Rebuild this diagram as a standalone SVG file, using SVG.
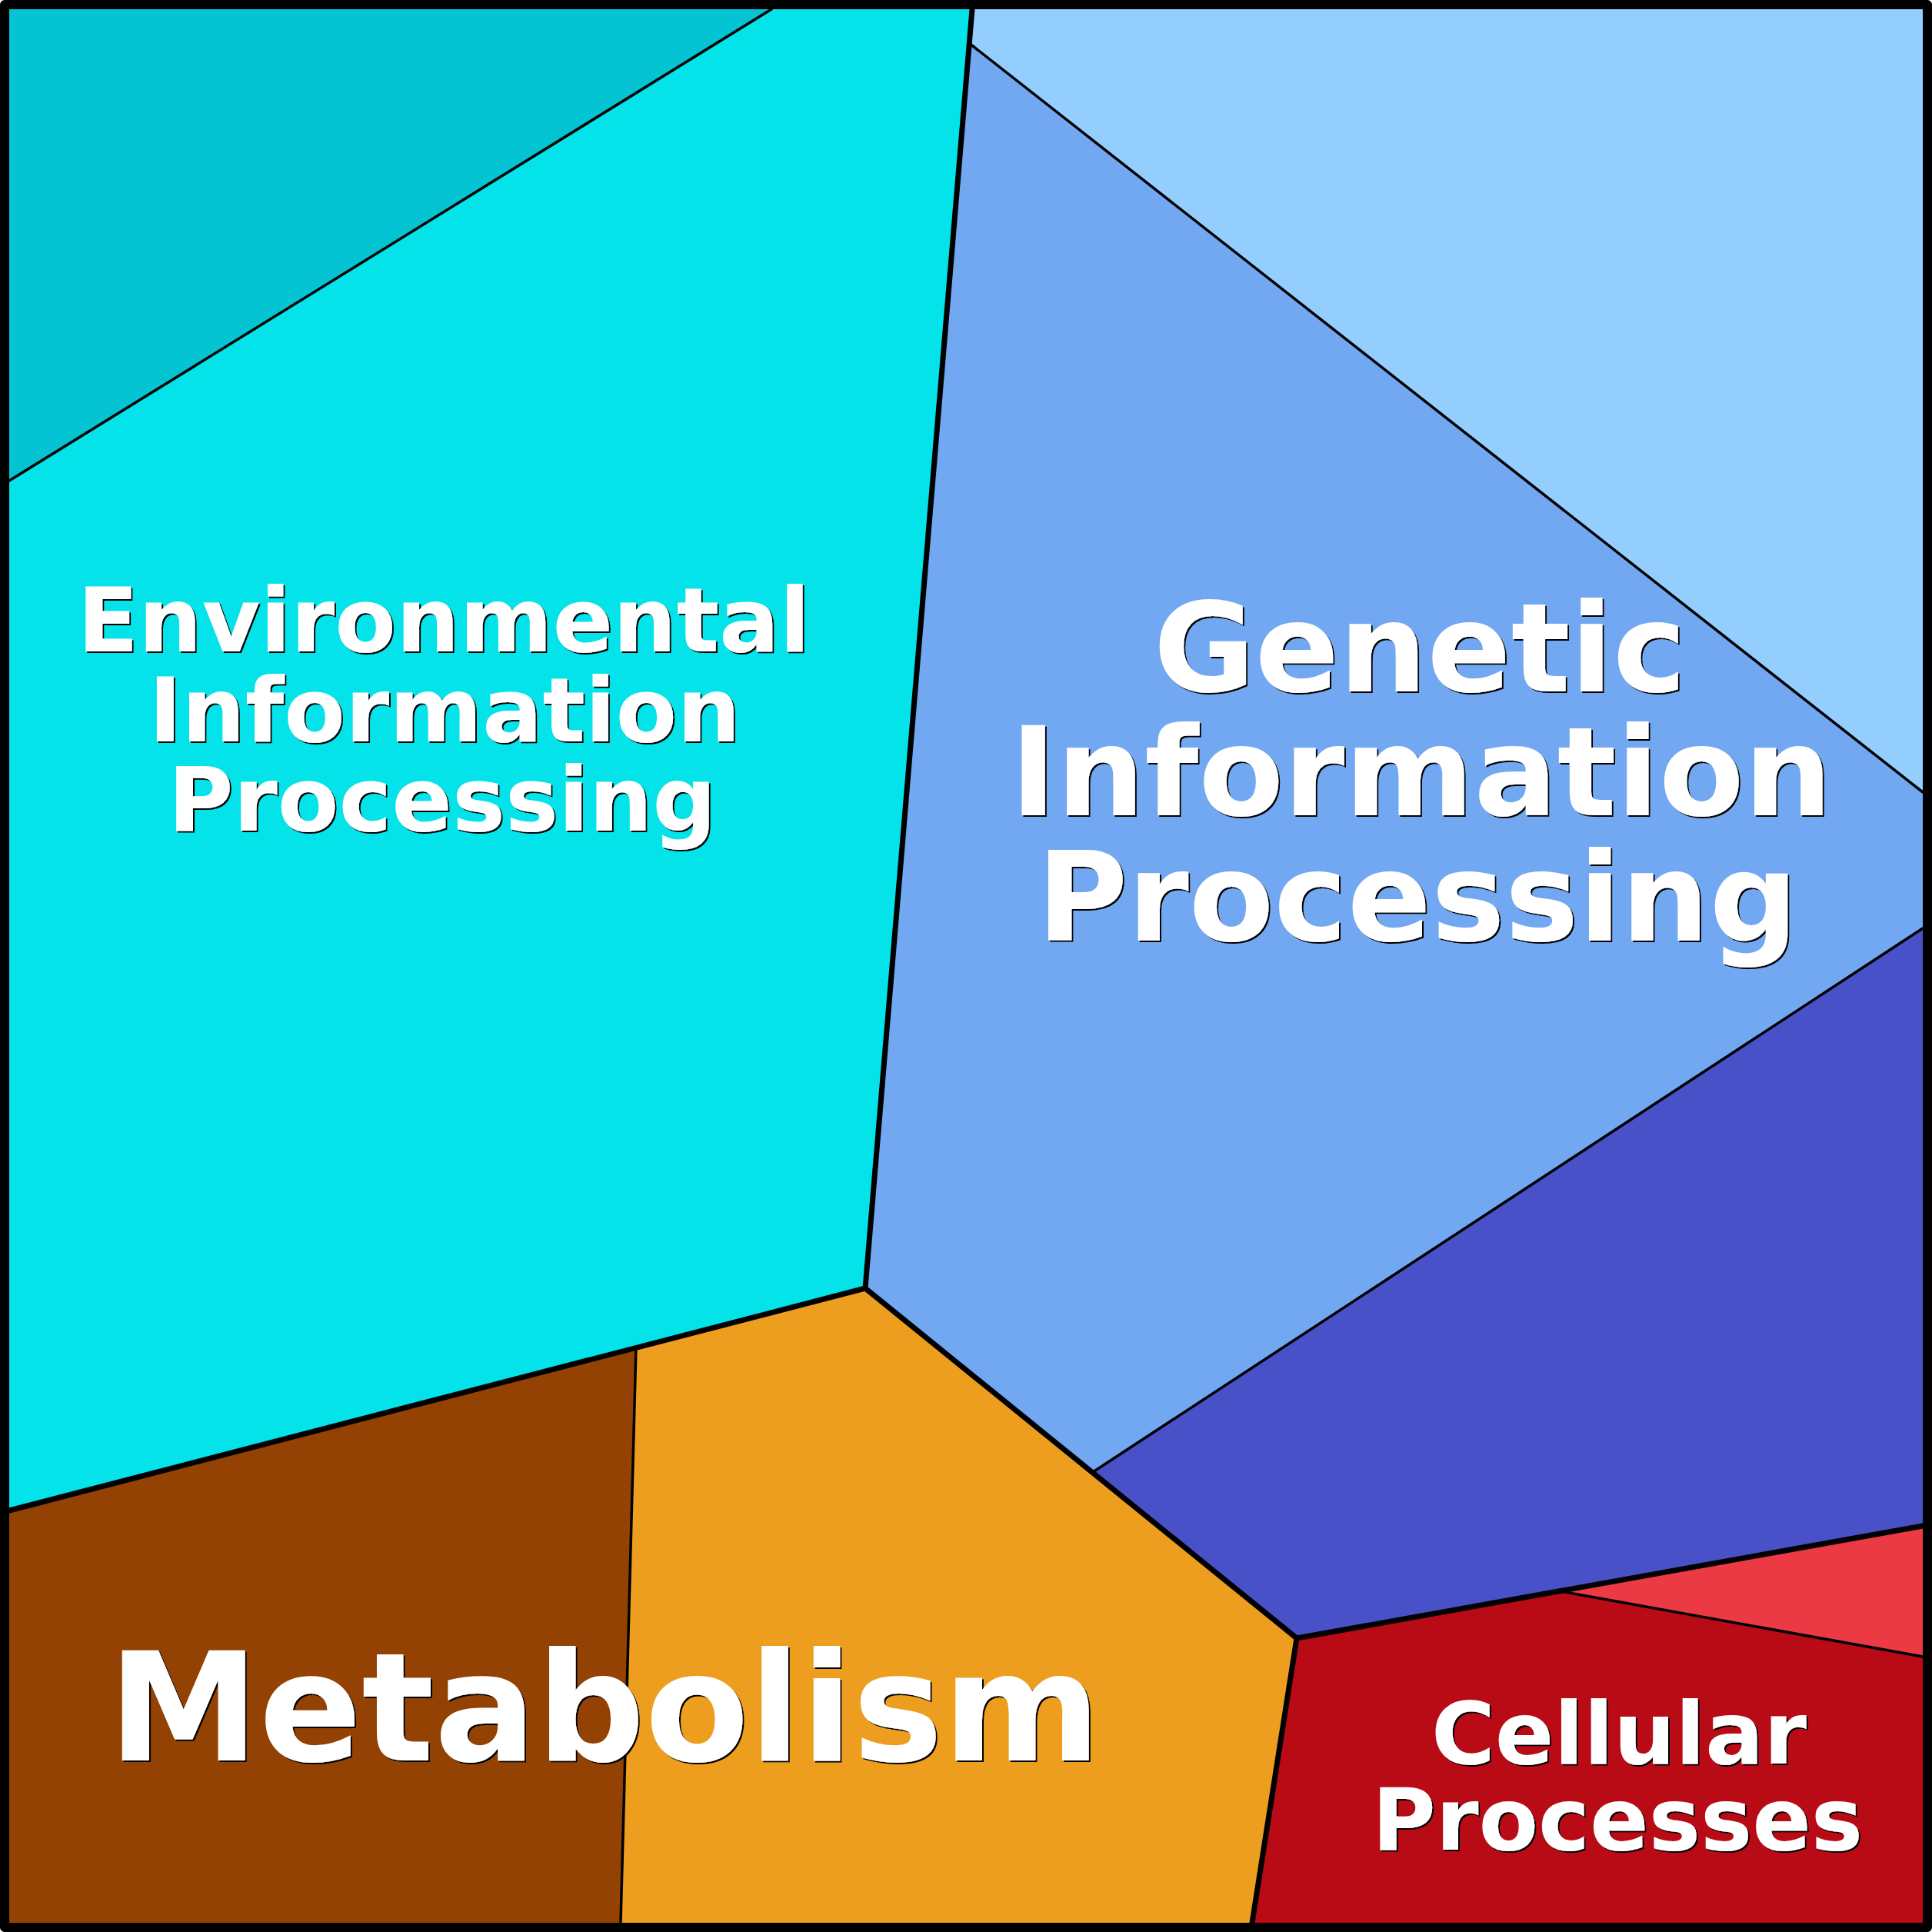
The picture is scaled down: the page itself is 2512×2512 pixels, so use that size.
<svg xmlns="http://www.w3.org/2000/svg" width="2512" height="2512" viewBox="0 0 2512 2512">
  <defs>
    <filter id="shadow" x="-5%" y="-5%" width="110%" height="110%">
      <feDropShadow dx="2" dy="2" stdDeviation="0.3" flood-color="#000000" flood-opacity="1"/>
    </filter>
    <style>
      .lbl { font-family: "DejaVu Sans", "Liberation Sans", sans-serif; font-weight: bold; text-anchor: middle; fill: #ffffff; filter: url(#shadow); }
      .thin { fill: none; stroke: #000000; stroke-width: 3.5; stroke-linecap: round; stroke-linejoin: round; }
      .thick { fill: none; stroke: #000000; stroke-width: 7; stroke-linecap: round; stroke-linejoin: round; }
      .frame { fill: none; stroke: #000000; stroke-width: 12; stroke-linejoin: round; }
    </style>
  </defs>

  <g id="env-sub-a">
    <polygon points="12,12 1003,12 12,625" fill="#04C4D4"/>
  </g>
  <g id="environmental-information-processing">
    <polygon points="1003,12 1264,12 1125,1675 12,1964 12,625" fill="#04E2EA"/>
  </g>
  <g id="genetic-sub-a">
    <polygon points="1264,12 2500,12 2500,1030 1260,56" fill="#94CEFE"/>
  </g>
  <g id="genetic-information-processing">
    <polygon points="1260,56 2500,1030 2500,1207 1421,1914 1125,1675" fill="#72A8F2"/>
  </g>
  <g id="genetic-sub-b">
    <polygon points="1421,1914 2500,1207 2500,1984 1686,2130" fill="#4951C8"/>
  </g>
  <g id="cellular-sub-a">
    <polygon points="2029,2069 2500,1984 2500,2154" fill="#EB3A44"/>
  </g>
  <g id="cellular-processes">
    <polygon points="1686,2130 2029,2069 2500,2154 2500,2500 1628,2500" fill="#B80B15"/>
  </g>
  <g id="metabolism">
    <polygon points="827,1752 1125,1675 1686,2130 1628,2500 807,2500" fill="#EE9E1E"/>
  </g>
  <g id="metabolism-sub-a">
    <polygon points="12,1964 827,1752 807,2500 12,2500" fill="#934204"/>
  </g>

  <g id="connectors">
    <path class="thin" d="M1003,12 L12,625"/>
    <path class="thin" d="M1260,56 L2500,1030"/>
    <path class="thin" d="M1421,1914 L2500,1207"/>
    <path class="thin" d="M2029,2069 L2500,2154"/>
    <path class="thin" d="M827,1752 L807,2500"/>
    <path class="thick" d="M1264,12 L1125,1675"/>
    <path class="thick" d="M12,1964 L1125,1675 L1686,2130 L2500,1984"/>
    <path class="thick" d="M1686,2130 L1628,2500"/>
  </g>

  <g id="labels">
    <g id="label-environmental">
      <text class="lbl" font-size="116" x="577" y="847">Environmental</text>
      <text class="lbl" font-size="116" x="578" y="964">Information</text>
      <text class="lbl" font-size="116" x="575" y="1080">Processing</text>
    </g>
    <g id="label-genetic">
      <text class="lbl" font-size="161" x="1846" y="899">Genetic</text>
      <text class="lbl" font-size="161" x="1848" y="1060">Information</text>
      <text class="lbl" font-size="161" x="1843" y="1223">Processing</text>
    </g>
    <g id="label-metabolism">
      <text class="lbl" font-size="197" x="786" y="2289">Metabolism</text>
    </g>
    <g id="label-cellular">
      <text class="lbl" font-size="113" x="2105" y="2293">Cellular</text>
      <text class="lbl" font-size="113" x="2103" y="2405">Processes</text>
    </g>
  </g>

  <rect class="frame" x="6" y="6" width="2500" height="2500"/>
</svg>
